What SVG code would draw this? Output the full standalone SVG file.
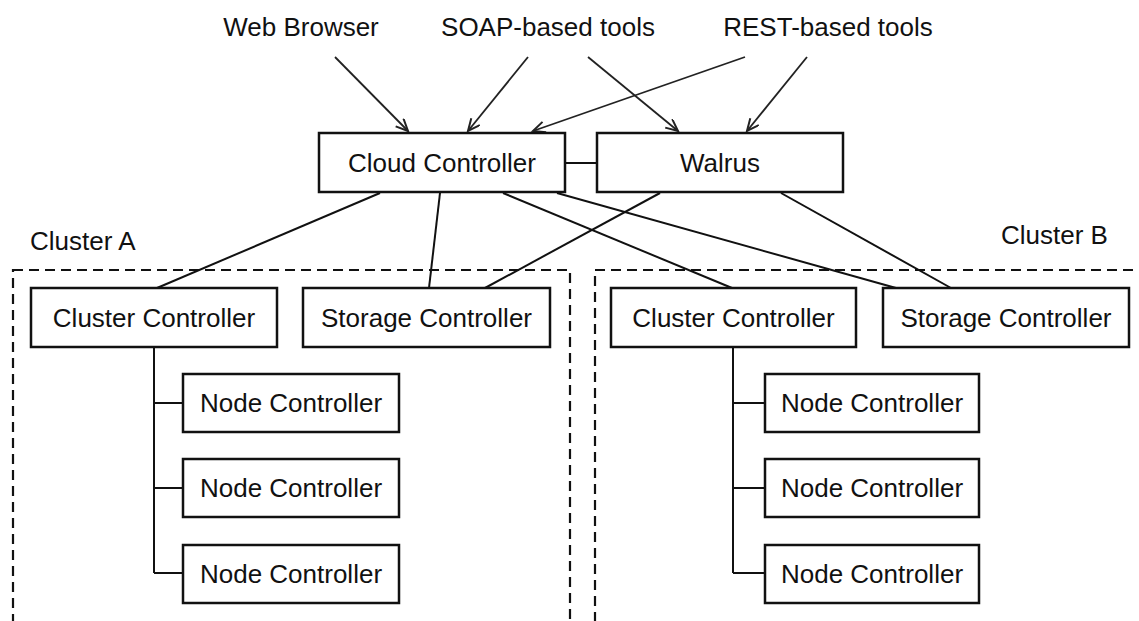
<svg xmlns="http://www.w3.org/2000/svg" width="1139" height="621" viewBox="0 0 1139 621">
<style>
  text { font-family: "Liberation Sans", Arial, sans-serif; font-size: 26px; fill: #111; }
  .lbl { text-anchor: middle; }
  .box { fill: #fff; stroke: #111; stroke-width: 2.5; }
  .cluster { fill: none; stroke: #111; stroke-width: 2.2; stroke-dasharray: 10 6; }
  .conn { stroke: #111; stroke-width: 2; fill: none; }
  .arr { stroke: #222; stroke-width: 1.8; fill: none; marker-end: url(#ah); }
</style>
<defs>
  <marker id="ah" markerUnits="userSpaceOnUse" markerWidth="16" markerHeight="14" refX="13" refY="6" orient="auto">
    <path d="M1,0.5 L13,6 L1,11.5" fill="none" stroke="#222" stroke-width="2"/>
  </marker>
</defs>
<rect width="1139" height="621" fill="#fff"/>

<g id="clusterA">
  <rect class="cluster" x="13" y="270" width="557" height="380"/>
  <text x="30" y="250">Cluster A</text>
</g>
<g id="clusterB">
  <rect class="cluster" x="595" y="270" width="580" height="380"/>
  <text x="1001" y="244">Cluster B</text>
</g>

<g id="sources">
  <text id="web-browser" class="lbl" x="301" y="36">Web Browser</text>
  <text id="soap-tools" class="lbl" x="548" y="36">SOAP-based tools</text>
  <text id="rest-tools" class="lbl" x="828" y="36">REST-based tools</text>
</g>

<g id="connectors">
  <line class="arr" x1="335" y1="57" x2="408" y2="131"/>
  <line class="arr" x1="528" y1="57" x2="468" y2="131"/>
  <line class="arr" x1="588" y1="57" x2="678" y2="131"/>
  <line class="arr" x1="745" y1="57" x2="533" y2="131"/>
  <line class="arr" x1="807" y1="57" x2="747" y2="131"/>
  <line class="conn" x1="565" y1="163" x2="597" y2="163"/>
  <line class="conn" x1="380" y1="193" x2="157" y2="288"/>
  <line class="conn" x1="440" y1="193" x2="429" y2="288"/>
  <line class="conn" x1="503" y1="193" x2="732" y2="288"/>
  <line class="conn" x1="557" y1="193" x2="896" y2="288"/>
  <line class="conn" x1="660" y1="193" x2="485" y2="288"/>
  <line class="conn" x1="781" y1="193" x2="951" y2="288"/>
  <path class="conn" d="M154,347 V573 M154,403 H183 M154,488 H183 M154,573 H183"/>
  <path class="conn" d="M733,347 V573 M733,403 H765 M733,488 H765 M733,573 H765"/>
</g>

<g id="cloud-controller">
  <rect class="box" x="319" y="133" width="246" height="59"/>
  <text class="lbl" x="442" y="172">Cloud Controller</text>
</g>
<g id="walrus">
  <rect class="box" x="597" y="133" width="246" height="59"/>
  <text class="lbl" x="720" y="172">Walrus</text>
</g>

<g id="cluster-controller-a">
  <rect class="box" x="31" y="288" width="246" height="59"/>
  <text class="lbl" x="154" y="327">Cluster Controller</text>
</g>
<g id="storage-controller-a">
  <rect class="box" x="303" y="288" width="247" height="59"/>
  <text class="lbl" x="426.5" y="327">Storage Controller</text>
</g>
<g id="node-a1">
  <rect class="box" x="183" y="374" width="216" height="58"/>
  <text class="lbl" x="291" y="412">Node Controller</text>
</g>
<g id="node-a2">
  <rect class="box" x="183" y="459" width="216" height="58"/>
  <text class="lbl" x="291" y="497">Node Controller</text>
</g>
<g id="node-a3">
  <rect class="box" x="183" y="545" width="216" height="58"/>
  <text class="lbl" x="291" y="583">Node Controller</text>
</g>

<g id="cluster-controller-b">
  <rect class="box" x="611" y="288" width="245" height="59"/>
  <text class="lbl" x="733.5" y="327">Cluster Controller</text>
</g>
<g id="storage-controller-b">
  <rect class="box" x="883" y="288" width="246" height="59"/>
  <text class="lbl" x="1006" y="327">Storage Controller</text>
</g>
<g id="node-b1">
  <rect class="box" x="765" y="374" width="214" height="58"/>
  <text class="lbl" x="872" y="412">Node Controller</text>
</g>
<g id="node-b2">
  <rect class="box" x="765" y="459" width="214" height="58"/>
  <text class="lbl" x="872" y="497">Node Controller</text>
</g>
<g id="node-b3">
  <rect class="box" x="765" y="545" width="214" height="58"/>
  <text class="lbl" x="872" y="583">Node Controller</text>
</g>
</svg>
